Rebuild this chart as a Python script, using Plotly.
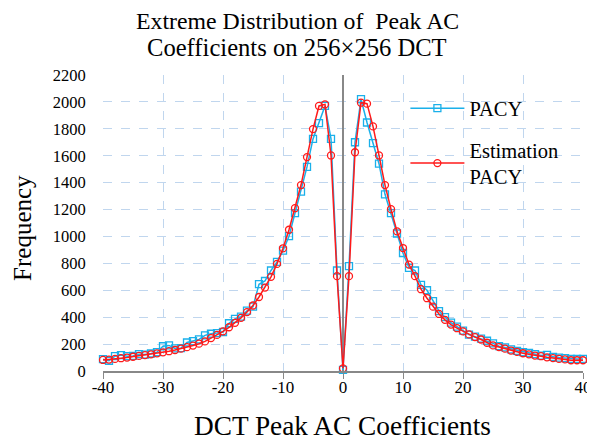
import plotly.graph_objects as go

x_vals = list(range(-40, 41))

pacy = [88, 76, 110, 118, 110, 112, 125, 122, 130, 140,
        184, 190, 168, 170, 212, 222, 235, 265, 277, 282,
        290, 355, 387, 404, 448, 478, 645, 669, 747, 811,
        894, 1002, 1174, 1333, 1517, 1725, 1843, 1970, 1725, 747,
        8,
        779, 1700, 2020, 1847, 1693, 1541, 1313, 1174, 1022, 877,
        767, 747, 640, 600, 520, 445, 400, 360, 330, 300,
        270, 255, 240, 225, 205, 185, 175, 160, 150, 140,
        135, 125, 115, 120, 105, 100, 95, 90, 90, 90]

est_pacy = [82, 85, 90, 95, 100, 106, 112, 118, 124, 131,
            139, 147, 156, 166, 177, 189, 203, 220, 245, 268,
            295, 325, 358, 395, 438, 487, 550, 620, 700, 796,
            912, 1050, 1210, 1382, 1590, 1798, 1970, 1982, 1602, 705,
            20,
            705, 1626, 1994, 1987, 1818, 1602, 1382, 1203, 1038, 914,
            791, 705, 608, 541, 478, 424, 380, 345, 318, 294,
            272, 252, 234, 210, 190, 178, 166, 152, 142, 132,
            124, 115, 110, 102, 96, 90, 86, 80, 80, 80]

x_ticks = [-40, -30, -20, -10, 0, 10, 20, 30, 40]
y_ticks = list(range(0, 2201, 200))

title_lines = ["Extreme Distribution of  Peak AC", "Coefficients on 256×256 DCT"]
x_title = "DCT Peak AC Coefficients"
y_title = "Frequency"

SERIF = "Liberation Serif, Times New Roman, serif"
BLUE = "#1ab0ea"
RED = "#ff1a1a"
GRID = "#c0d6ee"

fig = go.Figure()
fig.add_trace(go.Scatter(
    x=x_vals, y=pacy, name="PACY", mode="lines+markers",
    line=dict(color=BLUE, width=1.5),
    marker=dict(symbol="square-open", size=7, color=BLUE, line=dict(width=1.3)),
    cliponaxis=False, legendgroup="a"))
fig.add_trace(go.Scatter(
    x=x_vals, y=est_pacy, name="Estimation<br>PACY", mode="lines+markers",
    line=dict(color=RED, width=1.5),
    marker=dict(symbol="circle-open", size=7, color=RED, line=dict(width=1.3)),
    cliponaxis=False, legendgroup="b"))

annotations = [
    dict(text=title_lines[0], x=0.405, y=1.183, xref="paper", yref="paper",
         xanchor="center", yanchor="middle", showarrow=False,
         font=dict(family=SERIF, size=23.8, color="black")),
    dict(text=title_lines[1], x=0.405, y=1.092, xref="paper", yref="paper",
         xanchor="center", yanchor="middle", showarrow=False,
         font=dict(family=SERIF, size=24.6, color="black")),
    dict(text=x_title, x=0.499, y=-0.186, xref="paper", yref="paper",
         xanchor="center", yanchor="middle", showarrow=False,
         font=dict(family=SERIF, size=27.3, color="black")),
    dict(text=y_title, x=-0.169, y=0.483, xref="paper", yref="paper",
         xanchor="center", yanchor="middle", showarrow=False, textangle=-90,
         font=dict(family=SERIF, size=25, color="black")),
]

fig.update_layout(
    width=595, height=445,
    margin=dict(l=95, r=20, t=67, b=82, autoexpand=False),
    paper_bgcolor="white", plot_bgcolor="white",
    font=dict(family=SERIF, color="black", size=17),
    legend=dict(x=0.63, y=0.955, xanchor="left", yanchor="top",
                font=dict(family=SERIF, size=20.5, color="black"),
                bgcolor="rgba(255,255,255,0)", tracegroupgap=12, itemwidth=54),
    showlegend=True,
    annotations=annotations,
)
fig.update_xaxes(
    range=[-40, 40], tickvals=x_ticks, ticktext=[str(v) for v in x_ticks],
    showgrid=True, gridcolor=GRID, griddash="dash", gridwidth=1,
    showline=True, linecolor="#888888", linewidth=1.5,
    ticks="outside", ticklen=6, tickcolor="#888888",
    zeroline=True, zerolinecolor="#888888", zerolinewidth=1.5,
    tickfont=dict(family=SERIF, size=17, color="black"),
    ticklabelstandoff=-6,
    automargin=False,
)
fig.update_yaxes(
    range=[0, 2200], tickvals=y_ticks, ticktext=[str(v) for v in y_ticks],
    showgrid=True, gridcolor=GRID, griddash="dash", gridwidth=1,
    showline=False, zeroline=False,
    ticks="outside", ticklen=13, tickcolor="rgba(0,0,0,0)",
    tickfont=dict(family=SERIF, size=16.5, color="black"),
    automargin=False,
)

fig.write_html("out.html")
